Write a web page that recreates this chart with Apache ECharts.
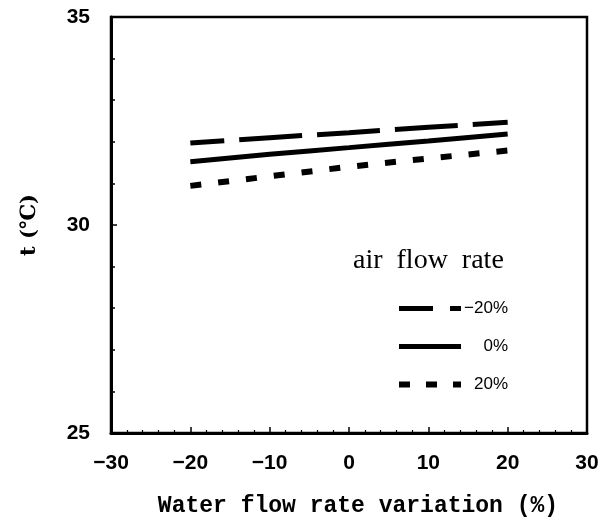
<!DOCTYPE html>
<html>
<head>
<meta charset="utf-8">
<script src="https://cdn.jsdelivr.net/npm/echarts@6/dist/echarts.min.js"></script>
<style>
  html, body { margin: 0; padding: 0; background: #fff; }
  #chart { width: 607px; height: 524px; }
</style>
</head>
<body>
<div id="chart"></div>
<script>
// water flow rate variation (%)
const waterFlow = [-20, -10, 0, 10, 20]
// outlet temperature t (°C) for each air flow rate variation
const airMinus20 = [31.97, 32.1, 32.22, 32.35, 32.47]
const air0 = [31.52, 31.7, 31.86, 32.02, 32.19]
const airPlus20 = [30.94, 31.17, 31.4, 31.6, 31.79]
const seriesNames = ['−20%', '0%', '20%']

let myChart = echarts.init(document.getElementById('chart'), null, {
    renderer: 'canvas'
})

function pares(ys) {
    return waterFlow.map((x, i) => [x, ys[i]])
}

const tickFont = {
    fontFamily: 'Liberation Sans',
    fontWeight: 'bold',
    fontSize: 21,
    color: '#000'
}

myChart.setOption({
    animation: false,
    title: {
        text: 'air  flow  rate',
        left: 353,
        top: 247,
        padding: 0,
        textStyle: {
            fontFamily: 'Liberation Serif',
            fontWeight: 'normal',
            fontSize: 28,
            color: '#000'
        }
    },
    legend: {
        orient: 'vertical',
        left: 396,
        top: 300,
        itemWidth: 62,
        itemHeight: 16,
        itemGap: 21,
        padding: 0,
        lineStyle: { width: 5 },
        itemStyle: { color: 'transparent', borderWidth: 0, opacity: 0 },
        formatter: '{a|{name}}',
        textStyle: {
            color: '#000',
            rich: {
                a: {
                    width: 42,
                    align: 'right',
                    fontFamily: 'Liberation Sans',
                    fontSize: 17,
                    color: '#000'
                }
            }
        },
        data: [
            { name: seriesNames[0], lineStyle: { width: 5, type: [34, 17], dashOffset: 0 } },
            { name: seriesNames[1], lineStyle: { width: 5, type: 'solid', dashOffset: 0 } },
            { name: seriesNames[2], lineStyle: { width: 6, type: [11, 16], dashOffset: 0 } }
        ]
    },
    grid: {
        left: 111,
        right: 20,
        top: 17,
        bottom: 91,
        show: true,
        borderColor: '#000',
        borderWidth: 2.5
    },
    xAxis: {
        type: 'value',
        min: -30,
        max: 30,
        interval: 10,
        name: 'Water flow rate variation (%)',
        nameLocation: 'middle',
        nameGap: 62,
        nameTextStyle: {
            fontFamily: 'Liberation Mono',
            fontWeight: 'bold',
            fontSize: 23,
            color: '#000',
            padding: [0, 0, 0, 18]
        },
        axisLine: { onZero: false, lineStyle: { color: '#000', width: 3 } },
        axisTick: { inside: true, length: 6, lineStyle: { color: '#000', width: 1.5 } },
        minorTick: { show: true, splitNumber: 5, length: 3, lineStyle: { color: '#000', width: 1.2 } },
        splitLine: { show: false },
        axisLabel: Object.assign({
            margin: 20,
            formatter: v => (v < 0 ? '−' + Math.abs(v) : String(v))
        }, tickFont)
    },
    yAxis: {
        type: 'value',
        min: 25,
        max: 35,
        interval: 5,
        name: 't (℃)',
        nameLocation: 'middle',
        nameRotate: 90,
        nameGap: 71,
        nameTextStyle: {
            fontFamily: 'DejaVu Serif',
            fontWeight: 'bold',
            fontSize: 21,
            color: '#000'
        },
        axisLine: { show: true, onZero: false, lineStyle: { color: '#000', width: 3 } },
        axisTick: { inside: true, length: 6, lineStyle: { color: '#000', width: 1.5 } },
        minorTick: { show: true, splitNumber: 5, length: 4, lineStyle: { color: '#000', width: 1.5 } },
        splitLine: { show: false },
        axisLabel: Object.assign({ margin: 21 }, tickFont)
    },
    series: [
        {
            name: seriesNames[0],
            type: 'line',
            data: pares(airMinus20),
            symbol: 'none',
            itemStyle: { color: '#000' },
            lineStyle: { color: '#000', width: 5, type: [63, 15], dashOffset: 29 }
        },
        {
            name: seriesNames[1],
            type: 'line',
            data: pares(air0),
            symbol: 'none',
            smooth: 0.3,
            itemStyle: { color: '#000' },
            lineStyle: { color: '#000', width: 5, type: 'solid' }
        },
        {
            name: seriesNames[2],
            type: 'line',
            data: pares(airPlus20),
            symbol: 'none',
            itemStyle: { color: '#000' },
            lineStyle: { color: '#000', width: 6, type: [11, 17] }
        }
    ]
})

window.addEventListener('resize', () => {
    myChart.resize()
})
</script>
</body>
</html>
